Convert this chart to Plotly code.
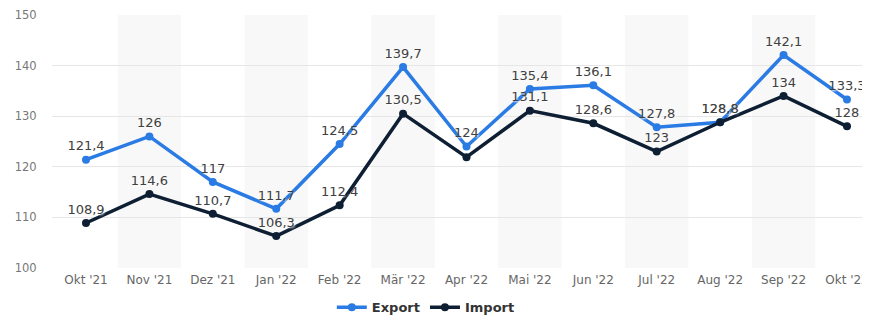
import plotly.graph_objects as go

months = ["Okt '21", "Nov '21", "Dez '21", "Jan '22", "Feb '22", "Mär '22", "Apr '22",
          "Mai '22", "Jun '22", "Jul '22", "Aug '22", "Sep '22", "Okt '22"]
export_vals = [121.4, 126, 117, 111.7, 124.5, 139.7, 124, 135.4, 136.1, 127.8, 128.8, 142.1, 133.3]
import_vals = [108.9, 114.6, 110.7, 106.3, 112.4, 130.5, 121.9, 131.1, 128.6, 123, 128.8, 134, 128]
import_hidden = ["Apr '22"]
y_ticks = [100, 110, 120, 130, 140, 150]

def fmt(v):
    return ("%g" % v).replace(".", ",")

export_text = [fmt(v) for v in export_vals]
import_text = ["" if m in import_hidden else fmt(v) for m, v in zip(months, import_vals)]

idx = list(range(len(months)))

FONT = "DejaVu Sans"
label_font = dict(family=FONT, size=13, color="#404040", shadow="1px 1px 2px white")

fig = go.Figure()
fig.add_trace(go.Scatter(
    x=idx, y=export_vals, name="Export", mode="lines+markers+text",
    line=dict(color="#2a7be4", width=3.5), marker=dict(size=8, color="#2a7be4"),
    text=export_text, textposition="top center", textfont=label_font,
    cliponaxis=False,
))
fig.add_trace(go.Scatter(
    x=idx, y=import_vals, name="Import", mode="lines+markers+text",
    line=dict(color="#0e1f33", width=3.5), marker=dict(size=8, color="#0e1f33"),
    text=import_text, textposition="top center", textfont=label_font,
    cliponaxis=False,
))

shapes = []
for i in idx:
    if i % 2 == 1:
        shapes.append(dict(type="rect", xref="x", yref="paper", x0=i - 0.5, x1=i + 0.5,
                           y0=0, y1=1, fillcolor="#f8f8f8", line=dict(width=0), layer="below"))

fig.update_layout(
    width=862, height=307,
    margin=dict(l=44, r=0, t=7, b=47, autoexpand=False),
    paper_bgcolor="white", plot_bgcolor="white",
    shapes=shapes,
    font=dict(family=FONT, color="#666666"),
    legend=dict(orientation="h", x=0.457, xanchor="center", yref="container", y=0.025,
                yanchor="middle", font=dict(family=FONT, size=13, color="#333333", weight="bold"),
                itemwidth=30),
    showlegend=True,
)
fig.update_xaxes(
    tickmode="array", tickvals=idx, ticktext=months, range=[-0.536, 12.363],
    showgrid=False, zeroline=False, showline=False,
    tickfont=dict(family=FONT, size=12, color="#666666"),
    ticks="outside", ticklen=1, tickcolor="rgba(0,0,0,0)",
)
fig.update_yaxes(
    range=[100, 150], tickvals=y_ticks, showgrid=True, gridcolor="#e6e6e6", gridwidth=1,
    zeroline=False, showline=False, ticklabeloverflow="allow",
    tickfont=dict(family=FONT, size=11.5, color="#777777"),
    ticks="outside", ticklen=12, tickcolor="rgba(0,0,0,0)",
)

fig.write_html("out.html")
